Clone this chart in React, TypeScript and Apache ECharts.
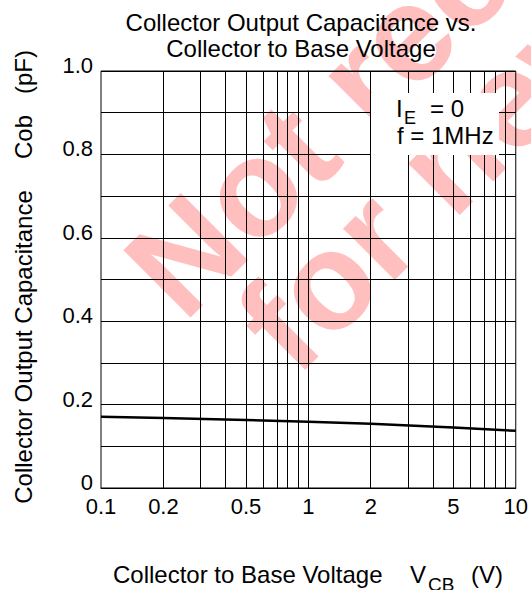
import React, { useEffect, useRef } from 'react';
import * as echarts from 'echarts';

// ---- data ----
const voltages = [0.1, 0.2, 0.5, 1, 2, 5, 10];
const capacitance = [0.171, 0.168, 0.163, 0.159, 0.154, 0.145, 0.137];
const xTickValues = [0.1, 0.2, 0.5, 1, 2, 5, 10];
const xGridValues = [0.2, 0.3, 0.4, 0.5, 0.6, 0.7, 0.8, 0.9, 1, 2, 3, 4, 5, 6, 7, 8, 9];
const yTickValues = [0, 0.2, 0.4, 0.6, 0.8, 1.0];
const yTickLabels = ['0', '0.2', '0.4', '0.6', '0.8', '1.0'];

const FONT = '"Liberation Sans", Arial, sans-serif';

export default function App() {
  const ref = useRef<HTMLDivElement>(null);
  useEffect(() => {
    document.body.style.margin = '0';
    const chart = echarts.init(ref.current!, undefined, { renderer: 'svg' });
    const lg = (v: number) => Math.log10(v);
    const fmtX = (v: number) => String(Number(Math.pow(10, v).toPrecision(2)));
    const txt = (text: string, x: number, y: number, size: number, extra: any = {}) => ({
      type: 'text',
      x,
      y,
      z: 50,
      style: {
        text,
        x: 0,
        y: 0,
        fill: '#000',
        font: `${size}px ${FONT}`,
        align: extra.align || 'left',
        verticalAlign: 'middle',
      },
      rotation: extra.rotation || 0,
    });
    const option: any = {
      animation: false,
      backgroundColor: '#fff',
      grid: {
        left: 101,
        top: 71,
        width: 416,
        height: 417,
        show: true,
        borderColor: '#000',
        borderWidth: 1,
        backgroundColor: 'transparent',
      },
      xAxis: {
        type: 'value',
        min: -1,
        max: 1,
        axisLine: { show: true, lineStyle: { color: '#000', width: 1 } },
        axisTick: { show: false },
        splitLine: { show: false },
        axisLabel: {
          customValues: xTickValues.map(lg),
          formatter: (v: number) => fmtX(v),
          color: '#000',
          fontSize: 22,
          fontFamily: FONT,
          margin: 7,
        },
      },
      yAxis: {
        type: 'value',
        min: 0,
        max: 1,
        interval: 0.1,
        axisLine: { show: true, lineStyle: { color: '#000', width: 1 } },
        axisTick: { show: false },
        splitLine: { show: true, lineStyle: { color: '#000', width: 1 } },
        axisLabel: {
          formatter: (v: number) => {
            const i = yTickValues.findIndex((t) => Math.abs(t - v) < 1e-9);
            return i >= 0 ? yTickLabels[i] : '';
          },
          color: '#000',
          fontSize: 22,
          fontFamily: FONT,
          margin: 8,
          verticalAlign: 'bottom',
          lineHeight: 11,
        },
      },
      series: [
        {
          type: 'line',
          data: voltages.map((v, i) => [lg(v), capacitance[i]]),
          symbol: 'none',
          lineStyle: { color: '#000', width: 2.5 },
          z: 3,
          markLine: {
            silent: true,
            symbol: 'none',
            label: { show: false },
            lineStyle: { color: '#000', width: 1, type: 'solid' },
            data: xGridValues.map((v) => ({ xAxis: lg(v) })),
            z: 2,
          },
        },
      ],
      graphic: [
        {
          type: 'text',
          x: 150,
          y: 290,
          z: -5,
          rotation: Math.PI / 4,
          style: {
            text: 'Not recommended',
            x: 0,
            y: 0,
            fill: '#ffbfbf',
            font: `bold 138px ${FONT}`,
            align: 'left',
            verticalAlign: 'middle',
          },
        },
        {
          type: 'text',
          x: 262,
          y: 345,
          z: -5,
          rotation: Math.PI / 4,
          style: {
            text: 'for new design',
            x: 0,
            y: 0,
            fill: '#ffbfbf',
            font: `bold 138px ${FONT}`,
            align: 'left',
            verticalAlign: 'middle',
          },
        },
        {
          type: 'rect',
          z: 40,
          shape: { x: 371, y: 93, width: 128, height: 62 },
          style: { fill: '#fff' },
        },
        txt('I', 396, 108.5, 24),
        txt('E', 404, 117.5, 18),
        txt('= 0', 430, 108.5, 24),
        txt('f = 1MHz', 397, 135, 24),
        txt('Collector Output Capacitance vs.', 301, 22, 24, { align: 'center' }),
        txt('Collector to Base Voltage', 301, 48.5, 24, { align: 'center' }),
        txt('Collector to Base Voltage', 113, 574, 24),
        txt('V', 410, 574, 24),
        txt('CB', 428, 584, 19),
        txt('(V)', 471, 574, 24),
        txt('Collector Output Capacitance', 23, 347, 24, { align: 'center', rotation: Math.PI / 2 }),
        txt('Cob', 23, 137, 24, { align: 'center', rotation: Math.PI / 2 }),
        txt('(pF)', 23, 72, 24, { align: 'center', rotation: Math.PI / 2 }),
      ],
    };
    chart.setOption(option);
    return () => chart.dispose();
  }, []);
  return <div ref={ref} style={{ width: 531, height: 590 }} />;
}
